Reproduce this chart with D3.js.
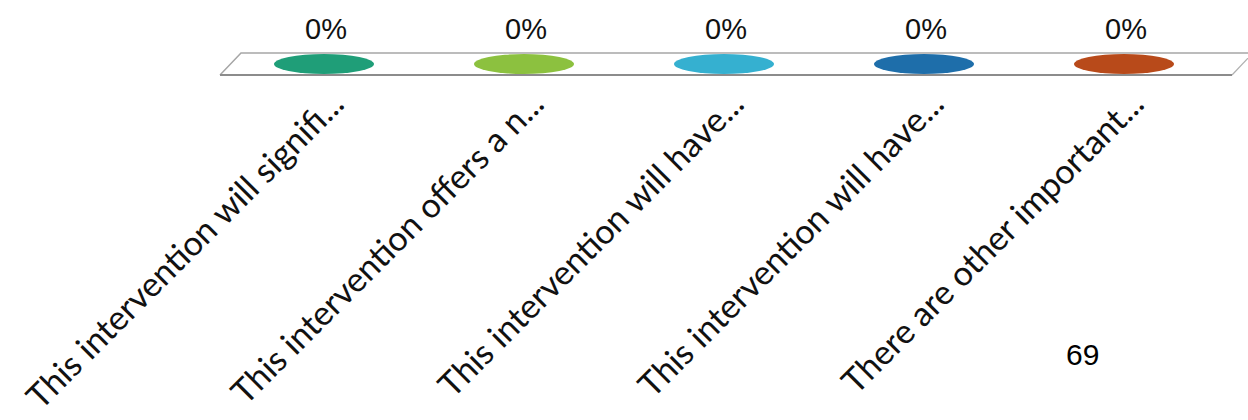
<!DOCTYPE html>
<html>
<head>
<meta charset="utf-8">
<script src="https://cdn.jsdelivr.net/npm/d3@7"></script>
<style>
	body { margin: 0; background: #fff; }
	svg { display: block; }
</style>
</head>
<body>
<svg width="1248" height="420"></svg>
<script>
let categories = [
	"This intervention will signifi...",
	"This intervention offers a n...",
	"This intervention will have...",
	"This intervention will have...",
	"There are other important..."
];
let values = [0, 0, 0, 0, 0];
let colors = ["#1f9e78", "#8cc13f", "#35b0d0", "#1e6eaa", "#b84a1a"];
let page_number = "69";

function draw_chart() {
	let svg = d3.select("svg");

	let floor_top = 53, floor_bottom = 75, depth = 21;

	let x = d3.scaleBand()
		.domain(d3.range(categories.length))
		.range([224, 1224]);

	let y = d3.scaleLinear()
		.domain([0, 1])
		.range([64, -200]);

	// floor of the 3d plot
	let floor = svg.append("g");
	floor.append("path")
		.attr("d", "M220," + floor_bottom + " L" + (220 + depth) + "," + floor_top + " L1250," + floor_top)
		.attr("fill", "none")
		.attr("stroke", "#a6a6a6")
		.attr("stroke-width", 1.5);
	floor.append("path")
		.attr("d", "M1250," + (floor_top + 3) + " L1232," + floor_bottom)
		.attr("fill", "none")
		.attr("stroke", "#b0b0b0")
		.attr("stroke-width", 1.2);
	floor.append("line")
		.attr("x1", 220).attr("x2", 1232)
		.attr("y1", floor_bottom).attr("y2", floor_bottom)
		.attr("stroke", "#8c8c8c")
		.attr("stroke-width", 2);

	let rx = 50, ry = 10;

	let bars = svg.selectAll(".bar")
		.data(values)
		.enter()
		.append("g")
		.attr("class", "bar");

	bars.append("rect")
		.attr("x", function(d, i) { return x(i) + x.bandwidth() / 2 - rx; })
		.attr("y", function(d) { return y(d); })
		.attr("width", rx * 2)
		.attr("height", function(d) { return y(0) - y(d); })
		.attr("fill", function(d, i) { return colors[i]; });

	bars.append("ellipse")
		.attr("cx", function(d, i) { return x(i) + x.bandwidth() / 2; })
		.attr("cy", function(d) { return y(d); })
		.attr("rx", rx)
		.attr("ry", ry)
		.attr("fill", function(d, i) { return colors[i]; });

	svg.selectAll(".pct")
		.data(values)
		.enter()
		.append("text")
		.attr("class", "pct")
		.attr("x", function(d, i) { return x(i) + x.bandwidth() / 2 + 2; })
		.attr("y", function(d) { return y(d) - 25; })
		.attr("text-anchor", "middle")
		.style("font-family", "'Liberation Sans', Arial, sans-serif")
		.style("font-size", "29px")
		.style("fill", "#111")
		.text(function(d) { return d3.format(".0%")(d); });

	svg.selectAll(".cat")
		.data(categories)
		.enter()
		.append("text")
		.attr("class", "cat")
		.attr("transform", function(d, i) {
			return "translate(" + (x(i) + x.bandwidth() / 2 + 22) + ",106) rotate(-45)";
		})
		.attr("text-anchor", "end")
		.style("font-family", "Lato, 'Open Sans', sans-serif")
		.style("font-size", "34px")
		.style("fill", "#111")
		.text(function(d) { return d; });

	svg.append("text")
		.attr("x", 1066)
		.attr("y", 365)
		.style("font-family", "'Liberation Sans', Arial, sans-serif")
		.style("font-size", "30px")
		.style("fill", "#000")
		.text(page_number);
}

draw_chart();
</script>
</body>
</html>
